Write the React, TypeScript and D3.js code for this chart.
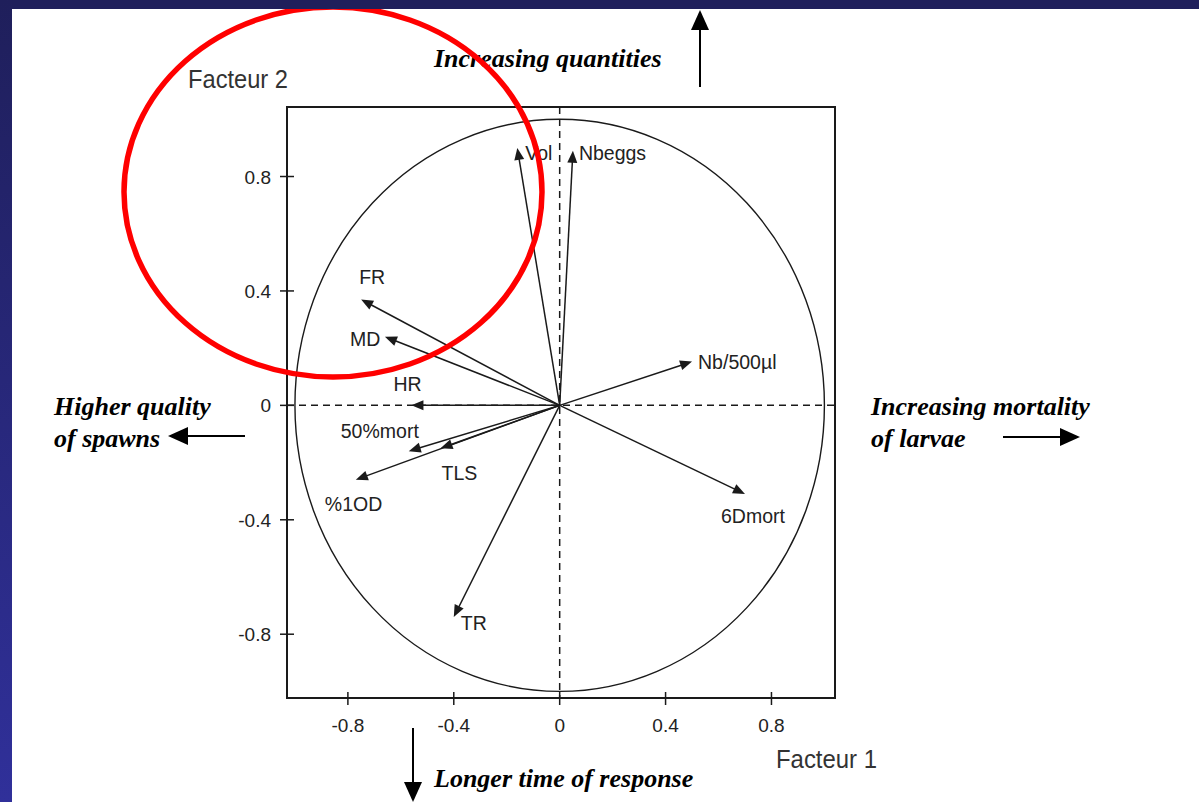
import React from "react";
import * as d3 from "d3";

// Correlation circle of a principal component analysis (factors 1 and 2)
const variables = ["Vol", "Nbeggs", "FR", "MD", "HR", "50%mort", "TLS", "%1OD", "TR", "Nb/500µl", "6Dmort"];
const factor1 = [-0.16, 0.05, -0.75, -0.66, -0.56, -0.57, -0.45, -0.77, -0.40, 0.50, 0.70];
const factor2 = [0.90, 0.89, 0.37, 0.24, 0.0, -0.16, -0.15, -0.26, -0.74, 0.153, -0.31];

const xTicks = [-0.8, -0.4, 0, 0.4, 0.8];
const yTicks = [0.8, 0.4, 0, -0.4, -0.8];
const xTickLabels = ["-0.8", "-0.4", "0", "0.4", "0.8"];
const yTickLabels = ["0.8", "0.4", "0", "-0.4", "-0.8"];

// Label placement relative to each arrow tip (pixels)
const labelOffsets: Record<string, [number, number]> = {
  "Vol": [8, 12],
  "Nbeggs": [6, 9],
  "FR": [-2, -16],
  "MD": [-35, 9],
  "HR": [-18, -14],
  "50%mort": [-68, -13],
  "TLS": [1, 32],
  "%1OD": [-31, 31],
  "TR": [7, 13],
  "Nb/500µl": [6, 7],
  "6Dmort": [-24, 29],
};

const W = 1199;
const H = 802;
const ink = "#1a1a1a";
const sans = "'Liberation Sans', Arial, sans-serif";
const serif = "'Liberation Serif', 'Times New Roman', serif";

function arrowHead(tx: number, ty: number, fx: number, fy: number, len = 12, half = 5) {
  const a = Math.atan2(ty - fy, tx - fx);
  const bx = tx - len * Math.cos(a);
  const by = ty - len * Math.sin(a);
  const p = d3.path();
  p.moveTo(tx, ty);
  p.lineTo(bx + half * Math.sin(a), by - half * Math.cos(a));
  p.lineTo(bx - half * Math.sin(a), by + half * Math.cos(a));
  p.closePath();
  return p.toString();
}

export default function App() {
  const x = d3.scaleLinear().domain([-1.03, 1.04]).range([287, 835]);
  const y = d3.scaleLinear().domain([-1.023, 1.043]).range([698, 107]);
  const x0 = x(0);
  const y0 = y(0);

  const vectors = variables.map((name, i) => ({ name, f1: factor1[i], f2: factor2[i] }));

  const bigArrow = (x1: number, y1: number, x2: number, y2: number, len = 20, half = 9) => {
    const a = Math.atan2(y2 - y1, x2 - x1);
    return (
      <g>
        <line x1={x1} y1={y1} x2={x2 - (len - 1) * Math.cos(a)} y2={y2 - (len - 1) * Math.sin(a)} stroke="#000" strokeWidth={2} />
        <path d={arrowHead(x2, y2, x1, y1, len, half)} fill="#000" />
      </g>
    );
  };

  const note = { fontFamily: serif, fontStyle: "italic", fontWeight: "bold", fontSize: 26, fill: "#000" } as const;

  return (
    <svg
      width={W}
      height={H}
      viewBox={`0 0 ${W} ${H}`}
      style={{ position: "absolute", left: 0, top: 0, display: "block" }}
    >
      <defs>
        <linearGradient id="band" x1="0" y1="0" x2="0" y2="1">
          <stop offset="0%" stopColor="#1f1f5b" />
          <stop offset="100%" stopColor="#30309a" />
        </linearGradient>
      </defs>
      <rect x={0} y={0} width={W} height={H} fill="#fff" />

      {/* plot frame */}
      <rect x={x.range()[0]} y={y.range()[1]} width={x.range()[1] - x.range()[0]} height={y.range()[0] - y.range()[1]} fill="none" stroke={ink} strokeWidth={2} />

      {/* unit circle */}
      <ellipse cx={x0} cy={y0} rx={x(1) - x0} ry={y0 - y(1)} fill="none" stroke={ink} strokeWidth={1.4} />

      {/* dashed axes through the origin */}
      <line x1={x.range()[0]} x2={x.range()[1]} y1={y0} y2={y0} stroke={ink} strokeWidth={1.5} strokeDasharray="7,5" />
      <line x1={x0} x2={x0} y1={y.range()[1]} y2={y.range()[0]} stroke={ink} strokeWidth={1.5} strokeDasharray="7,5" />

      {/* x ticks */}
      {xTicks.map((t, i) => (
        <g key={"xt" + i}>
          <line x1={x(t)} x2={x(t)} y1={692} y2={705} stroke={ink} strokeWidth={1.5} />
          <text x={x(t)} y={732} textAnchor="middle" fontFamily={sans} fontSize={19} fill="#222">
            {xTickLabels[i]}
          </text>
        </g>
      ))}
      {/* y ticks */}
      {yTicks.map((t, i) => (
        <g key={"yt" + i}>
          <line x1={280} x2={294} y1={y(t)} y2={y(t)} stroke={ink} strokeWidth={1.5} />
          <text x={271} y={y(t) + 7} textAnchor="end" fontFamily={sans} fontSize={19} fill="#222">
            {yTickLabels[i]}
          </text>
        </g>
      ))}

      {/* axis titles */}
      <text x={188} y={88} fontFamily={sans} fontSize={26} fill="#333" textLength={100} lengthAdjust="spacingAndGlyphs">
        Facteur 2
      </text>
      <text x={776} y={768} fontFamily={sans} fontSize={26} fill="#333" textLength={101} lengthAdjust="spacingAndGlyphs">
        Facteur 1
      </text>

      {/* variable vectors */}
      {vectors.map((v) => {
        const tx = x(v.f1);
        const ty = y(v.f2);
        const a = Math.atan2(ty - y0, tx - x0);
        const off = labelOffsets[v.name] || [4, 4];
        return (
          <g key={v.name}>
            <line x1={x0} y1={y0} x2={tx - 9 * Math.cos(a)} y2={ty - 9 * Math.sin(a)} stroke={ink} strokeWidth={1.5} />
            <path d={arrowHead(tx, ty, x0, y0)} fill={ink} />
            <text x={tx + off[0]} y={ty + off[1]} fontFamily={sans} fontSize={19.5} fill="#222">
              {v.name}
            </text>
          </g>
        );
      })}

      {/* interpretation annotations */}
      <text x={434} y={67} {...note}>Increasing quantities</text>
      {bigArrow(700, 87, 700, 10)}

      <text x={54} y={415} {...note}>Higher quality</text>
      <text x={54} y={447} {...note}>of spawns</text>
      {bigArrow(245, 436, 168, 436)}

      <text x={871} y={415} {...note}>Increasing mortality</text>
      <text x={871} y={447} {...note}>of larvae</text>
      {bigArrow(1003, 437, 1080, 437)}

      <text x={434} y={787} {...note}>Longer time of response</text>
      {bigArrow(413, 728, 413, 802)}

      {/* highlight ring */}
      <ellipse cx={333} cy={192} rx={209} ry={185} fill="none" stroke="#ff0000" strokeWidth={5.5} />

      {/* slide border */}
      <rect x={0} y={0} width={W} height={9} fill="#1f1f5b" />
      <rect x={0} y={0} width={12} height={H} fill="url(#band)" />
    </svg>
  );
}
